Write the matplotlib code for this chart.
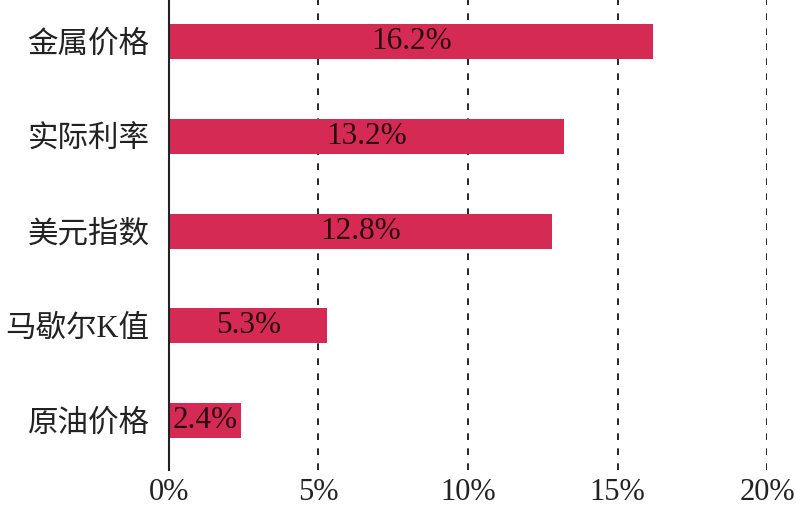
import matplotlib.pyplot as plt
import numpy as np

# factor contribution
factors = ['金属价格', '实际利率', '美元指数', '马歇尔K值', '原油价格']
values = [16.2, 13.2, 12.8, 5.3, 2.4]
xticks = [0, 5, 10, 15, 20]

bar_color = '#D42A54'
fams = ['Liberation Serif', 'Noto Sans CJK SC']

fig = plt.figure(figsize=(7.96, 5.08), dpi=100)
ax = fig.add_axes([0.2123, 0.0748, 0.7513, 0.9252])

ypos = np.arange(len(factors))[::-1]
bars = ax.barh(ypos, values, height=0.37, color=bar_color, zorder=2)
ax.bar_label(bars, labels=[f'{v:.1f}%' for v in values], label_type='center',
             fontsize=22.5, family=fams, color='#2a0a12')

# dashed vertical grid
for t in xticks[1:]:
    ax.axvline(t, color='black', linestyle=(0, (4, 5)), linewidth=1.2, zorder=1)

ax.set_xlim(0, 20)
ax.set_ylim(-0.52, 4.44)
ax.set_yticks(ypos)
ax.set_yticklabels(factors, family=fams, fontsize=22, color='#222222')
ax.set_xticks(xticks)
ax.set_xticklabels([f'{t}%' for t in xticks], family=fams, fontsize=22, color='#222222')
ax.tick_params(axis='both', length=0)
ax.tick_params(axis='y', pad=14)
ax.tick_params(axis='x', pad=6)

for s in ['top', 'right', 'bottom']:
    ax.spines[s].set_visible(False)
ax.spines['left'].set_color('#222222')
ax.spines['left'].set_linewidth(1.5)

fig.savefig('out.png', dpi=100)
